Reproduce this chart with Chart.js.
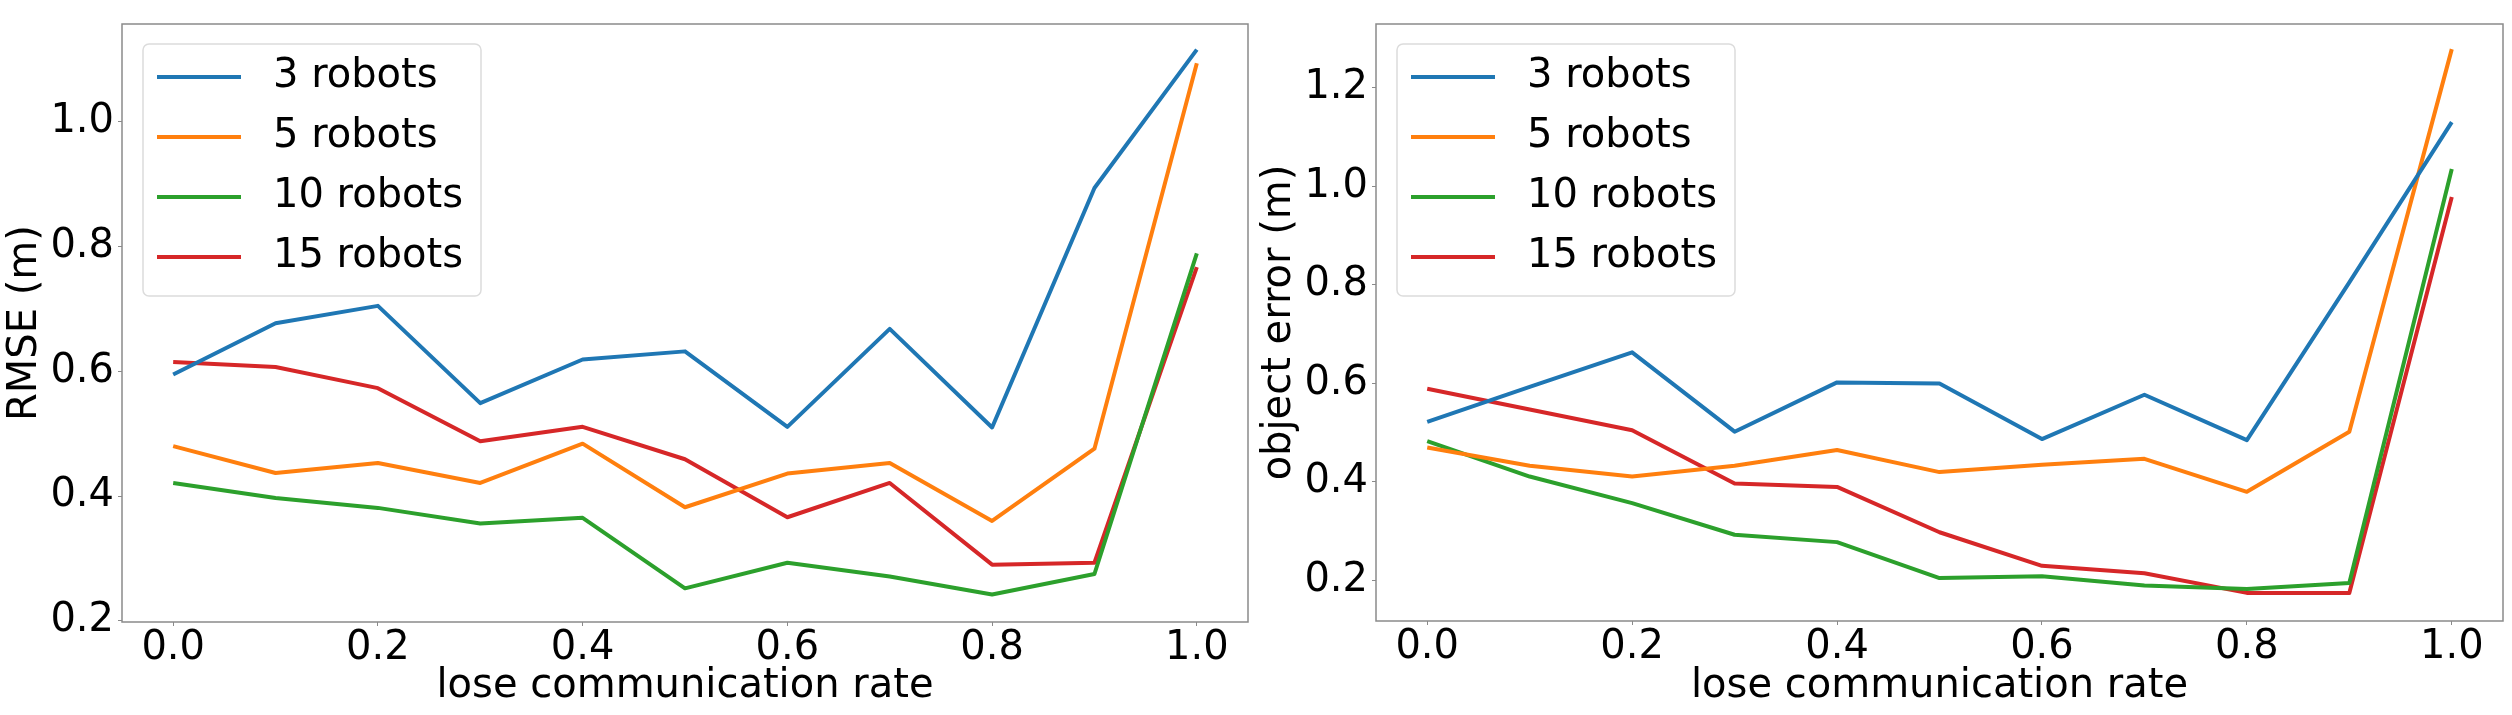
<!DOCTYPE html>
<html>
<head>
<meta charset="utf-8">
<script src="https://cdn.jsdelivr.net/npm/chart.js@4.4.1/dist/chart.umd.min.js"></script>
<style>
  body { margin: 0; background: #fff; }
  .panel { position: absolute; top: 0; }
</style>
</head>
<body>
<div class="panel" style="left:0px"><canvas id="rmseChart" width="1256" height="715"></canvas></div>
<div class="panel" style="left:1256px"><canvas id="objChart" width="1256" height="715"></canvas></div>
<script>
const rates = [0.0, 0.1, 0.2, 0.3, 0.4, 0.5, 0.6, 0.7, 0.8, 0.9, 1.0];
const seriesLabels = ["3 robots", "5 robots", "10 robots", "15 robots"];
const colors = ["#1f77b4", "#ff7f0e", "#2ca02c", "#d62728"];

// RMSE (m)
const rmse3  = [0.595, 0.677, 0.705, 0.549, 0.619, 0.632, 0.511, 0.668, 0.510, 0.894, 1.116];
const rmse5  = [0.480, 0.437, 0.453, 0.421, 0.484, 0.382, 0.436, 0.453, 0.360, 0.476, 1.094];
const rmse10 = [0.421, 0.397, 0.381, 0.356, 0.365, 0.252, 0.293, 0.271, 0.242, 0.275, 0.789];
const rmse15 = [0.615, 0.607, 0.573, 0.488, 0.511, 0.459, 0.366, 0.421, 0.290, 0.293, 0.767];

// object error (m)
const obj3  = [0.522, 0.593, 0.663, 0.502, 0.602, 0.600, 0.487, 0.577, 0.485, 0.805, 1.130];
const obj5  = [0.470, 0.433, 0.411, 0.433, 0.465, 0.420, 0.435, 0.447, 0.380, 0.502, 1.278];
const obj10 = [0.483, 0.411, 0.357, 0.293, 0.278, 0.205, 0.209, 0.190, 0.183, 0.195, 1.035];
const obj15 = [0.589, 0.547, 0.505, 0.397, 0.390, 0.298, 0.230, 0.215, 0.175, 0.175, 0.978];

const xTicks = [0.0, 0.2, 0.4, 0.6, 0.8, 1.0];
const rmseTicks = [0.2, 0.4, 0.6, 0.8, 1.0];
const objTicks = [0.2, 0.4, 0.6, 0.8, 1.0, 1.2];

const FONT = "DejaVu Sans";

// frame round the plot area + legend box inside it, like matplotlib
const framePlugin = {
    id: "frame",
    afterDatasetsDraw(chart) {
        const ctx = chart.ctx;
        const a = chart.chartArea;
        ctx.save();
        ctx.strokeStyle = "#8a8a8a";
        ctx.lineWidth = 1.5;
        ctx.strokeRect(a.left, a.top, a.right - a.left, a.bottom - a.top);

        const bx = a.left + 21, by = a.top + 20, bw = 338, bh = 252;
        ctx.beginPath();
        ctx.roundRect(bx, by, bw, bh, 6);
        ctx.fillStyle = "rgba(255,255,255,0.8)";
        ctx.fill();
        ctx.strokeStyle = "#dcdcdc";
        ctx.lineWidth = 1.5;
        ctx.stroke();

        ctx.font = "40px '" + FONT + "'";
        ctx.textBaseline = "middle";
        ctx.textAlign = "left";
        chart.data.datasets.forEach((ds, i) => {
            const y = by + 33 + i * 60;
            ctx.strokeStyle = ds.borderColor;
            ctx.lineWidth = 4;
            ctx.beginPath();
            ctx.moveTo(bx + 14, y);
            ctx.lineTo(bx + 98, y);
            ctx.stroke();
            ctx.fillStyle = "#000";
            ctx.fillText(ds.label, bx + 130, y);
        });
        ctx.restore();
    }
};

function makeChart(id, series, yTitle, yTicks, yMin, yMax, lay) {
    const ctx = document.getElementById(id).getContext("2d");
    return new Chart(ctx, {
        type: "line",
        data: {
            datasets: series.map((vals, i) => ({
                label: seriesLabels[i],
                data: rates.map((r, j) => ({ x: r, y: vals[j] })),
                borderColor: colors[i],
                backgroundColor: colors[i],
                borderWidth: 4,
                pointRadius: 0,
                tension: 0,
                borderJoinStyle: "round"
            }))
        },
        options: {
            responsive: false,
            animation: false,
            layout: { padding: { left: 0, top: lay.top, right: lay.right, bottom: 0 } },
            plugins: { legend: { display: false }, tooltip: { enabled: false } },
            scales: {
                x: {
                    type: "linear",
                    min: -0.05,
                    max: 1.05,
                    afterBuildTicks: s => { s.ticks = xTicks.map(v => ({ value: v })); },
                    afterFit: s => { s.height = lay.xh; },
                    grid: { drawOnChartArea: false, tickLength: 4, color: "#8a8a8a" },
                    border: { display: false },
                    ticks: {
                        padding: 3,
                        color: "#000",
                        maxRotation: 0,
                        font: { family: FONT, size: 40, lineHeight: 1 },
                        callback: v => v.toFixed(1)
                    },
                    title: {
                        display: true,
                        text: "lose communication rate",
                        color: "#000",
                        font: { family: FONT, size: 40, lineHeight: 1.2 },
                        padding: { top: 0, bottom: 4 }
                    }
                },
                y: {
                    min: yMin,
                    max: yMax,
                    afterBuildTicks: s => { s.ticks = yTicks.map(v => ({ value: v })); },
                    afterFit: s => { s.width = lay.yw; },
                    grid: { drawOnChartArea: false, tickLength: 4, color: "#8a8a8a" },
                    border: { display: false },
                    ticks: {
                        padding: 4,
                        color: "#000",
                        font: { family: FONT, size: 40, lineHeight: 1 },
                        callback: v => v.toFixed(1)
                    },
                    title: {
                        display: true,
                        text: yTitle,
                        color: "#000",
                        font: { family: FONT, size: 40, lineHeight: 1.2 },
                        padding: { top: lay.ytp, bottom: 0 }
                    }
                }
            }
        },
        plugins: [framePlugin]
    });
}

document.addEventListener("DOMContentLoaded", function () {
    makeChart("rmseChart", [rmse3, rmse5, rmse10, rmse15], "RMSE (m)", rmseTicks, 0.198, 1.157,
        { top: 18, right: 8, xh: 93, yw: 122, ytp: 2 });
    makeChart("objChart", [obj3, obj5, obj10, obj15], "object error (m)", objTicks, 0.118, 1.329,
        { top: 16, right: 9, xh: 94, yw: 120, ytp: 0 });
});
</script>
</body>
</html>
